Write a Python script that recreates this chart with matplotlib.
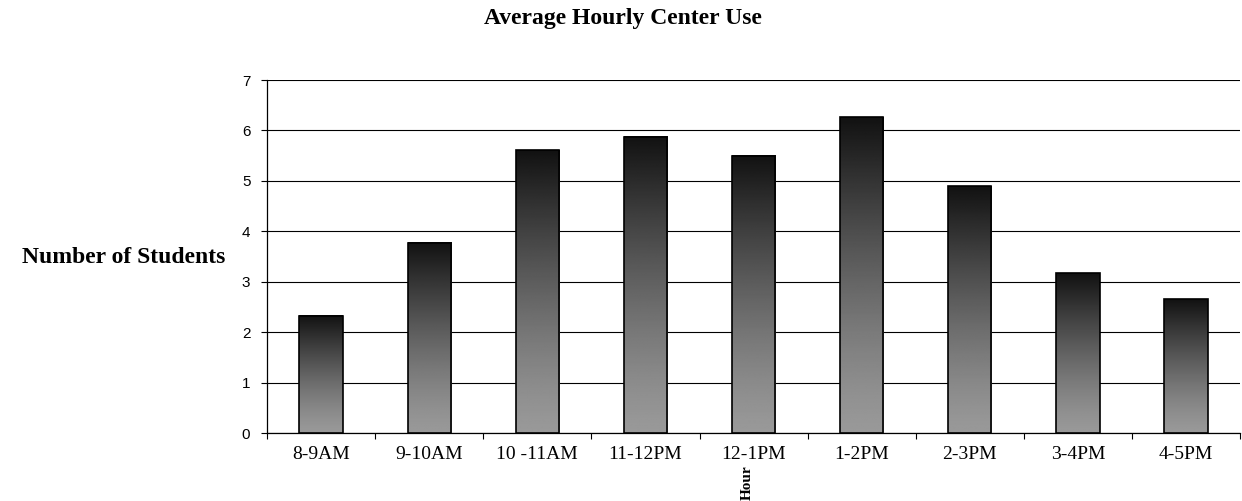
import matplotlib
matplotlib.use("Agg")
import matplotlib.pyplot as plt
import numpy as np

hours = ["8-9AM", "9-10AM", "10 -11AM", "11-12PM", "12-1PM", "1-2PM", "2-3PM", "3-4PM", "4-5PM"]
students = [2.33, 3.77, 5.61, 5.87, 5.50, 6.26, 4.89, 3.17, 2.65]

SERIF = ["Liberation Serif", "DejaVu Serif"]
SANS = ["Liberation Sans", "DejaVu Sans"]

fig = plt.figure(figsize=(12.42, 5.01), dpi=100)
ax = fig.add_axes([0.215, 0.1357, 0.7835, 0.7046])

# vertical gradient: dark at top of the bar, grey at the bottom
t = np.linspace(0, 1, 256)
shade = 0.07 + 0.53 * (1 - (1 - t) ** 1.3)
grad = np.repeat(shade[:, None], 2, axis=1)

width = 0.4
x = np.arange(len(hours))
bars = ax.bar(x, students, width=width, facecolor="none", edgecolor="black",
              linewidth=1.2, zorder=4)
for b in bars:
    x0, w, h = b.get_x(), b.get_width(), b.get_height()
    ax.imshow(grad, cmap="gray", vmin=0, vmax=1, aspect="auto",
              extent=[x0, x0 + w, 0, h], origin="upper", zorder=3,
              interpolation="bilinear")

ax.set_xlim(-0.5, len(hours) - 0.5)
ax.set_ylim(0, 7)
ax.set_yticks(range(0, 8))
ax.yaxis.grid(True, color="black", linewidth=0.8)
ax.set_axisbelow(True)

ax.set_xticks(np.arange(-0.5, len(hours), 1.0))
ax.set_xticklabels([])
ax.set_xticks(x, minor=True)
ax.set_xticklabels(hours, minor=True, fontfamily=SERIF, fontsize=14)
ax.tick_params(axis="x", which="major", direction="out", length=4, width=0.8)
ax.tick_params(axis="x", which="minor", length=0, pad=9)
ax.tick_params(axis="y", direction="out", length=4, width=0.8, pad=8)
for lab in ax.get_yticklabels():
    lab.set_fontfamily(SANS)
    lab.set_fontsize(11)

for s in ["top", "right"]:
    ax.spines[s].set_visible(False)
for s in ["left", "bottom"]:
    ax.spines[s].set_linewidth(0.9)

fig.text(0.5016, 0.963, "Average Hourly Center Use", ha="center", va="center",
         fontfamily=SERIF, fontweight="bold", fontsize=17)
fig.text(0.0995, 0.487, "Number of Students", ha="center", va="center",
         fontfamily=SERIF, fontweight="bold", fontsize=17)
fig.text(0.602, 0.072, "Hour", ha="center", va="top", rotation=90,
         fontfamily=SERIF, fontweight="bold", fontsize=11)

fig.savefig("out.png", dpi=100)
